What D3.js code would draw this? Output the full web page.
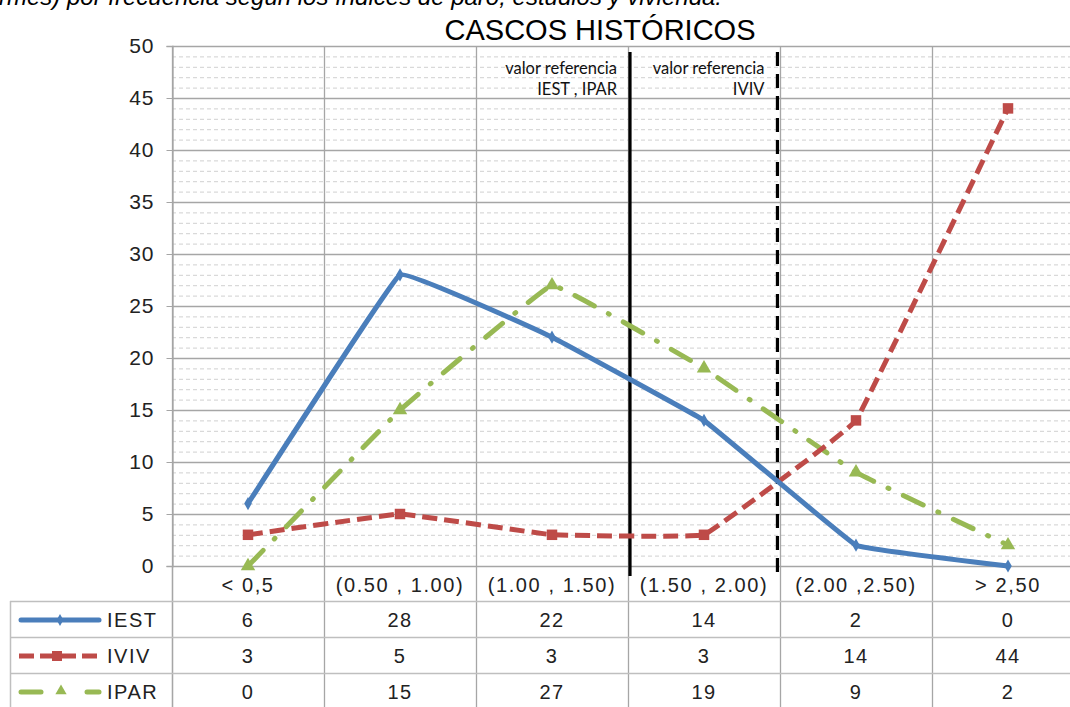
<!DOCTYPE html>
<html>
<head>
<meta charset="utf-8">
<script src="https://cdn.jsdelivr.net/npm/d3@7"></script>
<style>
  body { margin: 0; background: #fff; }
  svg { display: block; font-family: "Liberation Sans", Arial, sans-serif; }
</style>
</head>
<body>
<svg width="1070" height="707"></svg>
<script>
// data
var categories = ["< 0,5", "(0.50 , 1.00)", "(1.00 , 1.50)", "(1.50 , 2.00)", "(2.00 ,2.50)", "> 2,50"];
var iest = [6, 28, 22, 14, 2, 0];
var iviv = [3, 5, 3, 3, 14, 44];
var ipar = [0, 15, 27, 19, 9, 2];
var seriesNames = ["IEST", "IVIV", "IPAR"];
var yTicks = [0, 5, 10, 15, 20, 25, 30, 35, 40, 45, 50];
// reference lines sit on the category boundaries (in band units)
var refLines = [
  { pos: 3.0, lines: ["valor referencia", "IEST , IPAR"], dash: null },
  { pos: 3.97, lines: ["valor referencia", "IVIV"], dash: "14,8" }
];

var svg = d3.select("svg"),
  margin = { top: 46, left: 172, right: -14 },
  width = +svg.attr("width"),
  height = +svg.attr("height");

var plotBottom = 566;
var colors = { IEST: "#4a7ebb", IVIV: "#be4b48", IPAR: "#98b954" };
var seriesData = { IEST: iest, IVIV: iviv, IPAR: ipar };

var xScale = d3.scaleBand()
  .domain(categories)
  .range([margin.left, width - margin.right]);
var bw = xScale.bandwidth();

var yScale = d3.scaleLinear()
  .domain([0, 50])
  .range([plotBottom, margin.top]);

// caption cut by the top edge
svg.append("text")
  .attr("x", 722)
  .attr("y", 5)
  .attr("text-anchor", "end")
  .attr("font-style", "italic")
  .attr("font-size", "24px")
  .attr("fill", "#000")
  .text("informes) por frecuencia según los índices de paro, estudios y vivienda.");

svg.append("text")
  .attr("x", 600)
  .attr("y", 40)
  .attr("text-anchor", "middle")
  .attr("font-size", "29px")
  .attr("fill", "#000")
  .text("CASCOS HISTÓRICOS");

var g = svg.append("g");

// minor grid
var minor = d3.range(1, 50).filter(d => d % 5 != 0);
g.selectAll(".minor")
  .data(minor)
  .enter().append("line")
  .attr("x1", margin.left).attr("x2", width)
  .attr("y1", d => yScale(d) + 0.5).attr("y2", d => yScale(d) + 0.5)
  .attr("stroke", "#d0d0d0")
  .attr("stroke-dasharray", "4,3");

// major grid
g.selectAll(".major")
  .data(yTicks)
  .enter().append("line")
  .attr("x1", margin.left).attr("x2", width)
  .attr("y1", d => yScale(d) + 0.5).attr("y2", d => yScale(d) + 0.5)
  .attr("stroke", "#a6a6a6")
  .attr("stroke-width", 1.3);

// vertical category boundaries (through the table too)
var bounds = categories.map(c => xScale(c)).concat([xScale(categories[5]) + bw]);
g.selectAll(".vgrid")
  .data(bounds)
  .enter().append("line")
  .attr("x1", d => Math.round(d) + 0.5).attr("x2", d => Math.round(d) + 0.5)
  .attr("y1", margin.top).attr("y2", height)
  .attr("stroke", "#a6a6a6")
  .attr("stroke-width", 1.3);

// y axis
var yAxis = g.append("g")
  .attr("transform", "translate(" + (margin.left + 0.5) + ",0)")
  .call(d3.axisLeft(yScale).tickValues(yTicks).tickSize(6).tickPadding(12));
yAxis.select(".domain").attr("stroke", "#a6a6a6").attr("stroke-width", 1.3);
yAxis.selectAll(".tick line").attr("stroke", "#a6a6a6");
yAxis.selectAll("text")
  .attr("font-size", "21px")
  .attr("letter-spacing", "1px")
  .attr("fill", "#222")
  .attr("font-family", "Liberation Sans, Arial, sans-serif");
yAxis.append("line")
  .attr("x1", 0).attr("x2", 0)
  .attr("y1", plotBottom).attr("y2", height)
  .attr("stroke", "#a6a6a6").attr("stroke-width", 1.3);

// table
var rowTop = 601, rowH = 36;
var tableLeft = 10;
[rowTop, rowTop + rowH, rowTop + 2 * rowH].forEach(y => {
  g.append("line")
    .attr("x1", tableLeft).attr("x2", width)
    .attr("y1", y + 0.5).attr("y2", y + 0.5)
    .attr("stroke", "#bfbfbf").attr("stroke-width", 1.5);
});
g.append("line")
  .attr("x1", tableLeft + 0.5).attr("x2", tableLeft + 0.5)
  .attr("y1", rowTop).attr("y2", height)
  .attr("stroke", "#bfbfbf").attr("stroke-width", 1.5);

// category labels
g.selectAll(".cat")
  .data(categories)
  .enter().append("text")
  .attr("x", d => xScale(d) + bw / 2)
  .attr("y", 592)
  .attr("text-anchor", "middle")
  .attr("font-size", "20px")
  .attr("letter-spacing", "1.6px")
  .attr("fill", "#222")
  .text(d => d);

// table values
seriesNames.forEach((name, r) => {
  g.selectAll(".val" + name)
    .data(seriesData[name])
    .enter().append("text")
    .attr("x", (d, i) => xScale(categories[i]) + bw / 2)
    .attr("y", rowTop + r * rowH + 26)
    .attr("text-anchor", "middle")
    .attr("font-size", "20px")
    .attr("letter-spacing", "1.5px")
    .attr("fill", "#222")
    .text(d => d);

  var ly = rowTop + r * rowH + rowH / 2 + 1;
  var leg = g.append("g");
  if (name == "IEST") {
    leg.append("line").attr("x1", 21).attr("x2", 99).attr("y1", ly).attr("y2", ly)
      .attr("stroke", colors[name]).attr("stroke-width", 5).attr("stroke-linecap", "round");
    leg.append("path").attr("d", d3.symbol(d3.symbolDiamond, 40)())
      .attr("transform", "translate(60," + ly + ")").attr("fill", colors[name]);
  } else if (name == "IVIV") {
    leg.append("line").attr("x1", 19).attr("x2", 101).attr("y1", ly).attr("y2", ly)
      .attr("stroke", colors[name]).attr("stroke-width", 5).attr("stroke-dasharray", "15,6");
    leg.append("rect").attr("x", 52).attr("y", ly - 5).attr("width", 10).attr("height", 10)
      .attr("fill", colors[name]);
  } else {
    leg.append("line").attr("x1", 21).attr("x2", 99).attr("y1", ly).attr("y2", ly)
      .attr("stroke", colors[name]).attr("stroke-width", 5).attr("stroke-linecap", "round")
      .attr("stroke-dasharray", "20,58");
    leg.append("line").attr("x1", 87).attr("x2", 99).attr("y1", ly).attr("y2", ly)
      .attr("stroke", colors[name]).attr("stroke-width", 5).attr("stroke-linecap", "round");
    leg.append("path").attr("d", d3.symbol(d3.symbolTriangle, 55)())
      .attr("transform", "translate(61," + (ly - 1) + ")").attr("fill", colors[name]);
  }
  leg.append("text")
    .attr("x", 107).attr("y", ly + 7)
    .attr("font-size", "20px")
    .attr("letter-spacing", "1.5px")
    .attr("fill", "#222")
    .text(name);
});

// reference lines
refLines.forEach(r => {
  var x = xScale(categories[0]) + r.pos * bw + 2;
  g.append("line")
    .attr("x1", x).attr("x2", x)
    .attr("y1", 52).attr("y2", 576)
    .attr("stroke", "#000").attr("stroke-width", 3.2)
    .attr("stroke-dasharray", r.dash);
  r.lines.forEach((t, i) => {
    g.append("text")
      .attr("x", x - 13)
      .attr("y", 74 + i * 21)
      .attr("text-anchor", "end")
      .attr("font-family", "Lato, 'Open Sans', sans-serif")
      .attr("font-size", "16.5px")
      .attr("fill", "#111")
      .text(t);
  });
});

// series lines
var line = d3.line()
  .x((d, i) => xScale(categories[i]) + bw / 2)
  .y(d => yScale(d))
  .curve(d3.curveCardinal.tension(0.85));

var dashes = { IEST: null, IVIV: "15,7", IPAR: "22,16,1,16" };
var drawOrder = ["IPAR", "IVIV", "IEST"];
drawOrder.forEach(name => {
  g.append("path")
    .datum(seriesData[name])
    .attr("d", line)
    .attr("fill", "none")
    .attr("stroke", colors[name])
    .attr("stroke-width", 5)
    .attr("stroke-linecap", name == "IPAR" ? "round" : "butt")
    .attr("stroke-dasharray", dashes[name]);

  var sym = name == "IEST" ? d3.symbolDiamond : (name == "IVIV" ? d3.symbolSquare : d3.symbolTriangle);
  var size = name == "IEST" ? 50 : (name == "IVIV" ? 110 : 90);
  g.selectAll(".pt" + name)
    .data(seriesData[name])
    .enter().append("path")
    .attr("d", d3.symbol(sym, size)())
    .attr("transform", (d, i) => "translate(" + (xScale(categories[i]) + bw / 2) + "," + yScale(d) + ")")
    .attr("fill", colors[name]);
});
</script>
</body>
</html>
